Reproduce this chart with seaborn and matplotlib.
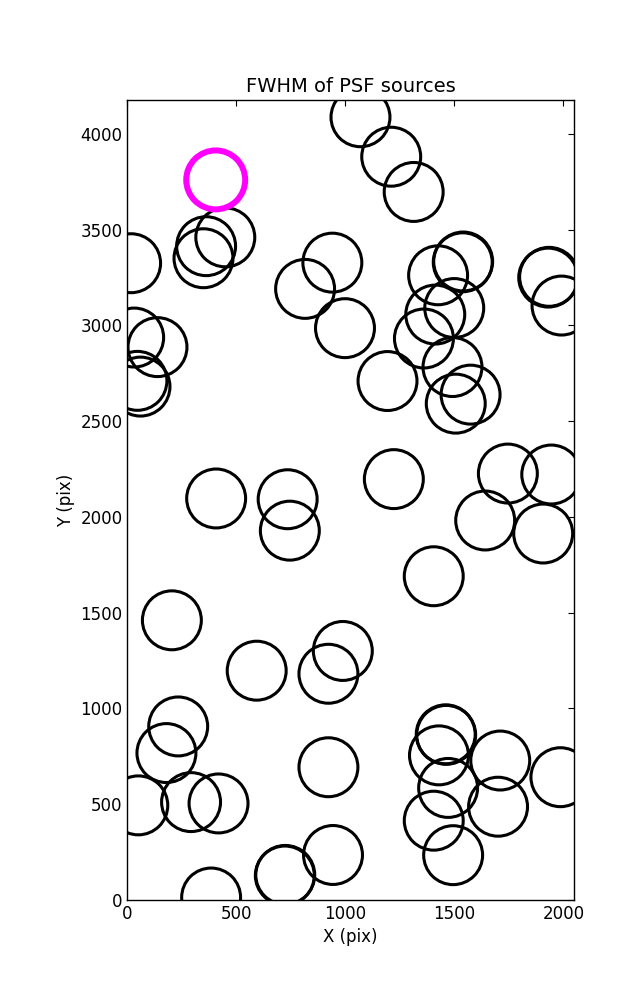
import matplotlib
matplotlib.use("Agg")
import matplotlib.pyplot as plt
import pandas as pd
import seaborn as sns

# source positions (pix)
src_x = [1069, 1210, 1313, 17, 349, 361, 449, 815, 940, 998,
         1425, 1538, 1540, 1499, 1412, 1360, 31, 138, 46, 60,
         1193, 1491, 1506, 1574, 1930, 1934, 1991, 407, 735, 745,
         1222, 1745, 1944, 1641, 1907, 1405, 204, 593, 988, 922,
         233, 179, 1460, 1462, 1429, 1710, 922, 1471, 1700, 1986,
         1405, 1494, 943, 50, 292, 418, 384, 722, 724]
src_y = [4086, 3880, 3696, 3324, 3350, 3413, 3459, 3190, 3327, 2985,
         3261, 3329, 3333, 3090, 3056, 2931, 2936, 2886, 2710, 2680,
         2709, 2782, 2591, 2638, 3249, 3253, 3103, 2096, 2092, 1928,
         2197, 2226, 2221, 1981, 1913, 1690, 1460, 1197, 1300, 1181,
         906, 767, 865, 862, 755, 728, 693, 585, 487, 641,
         414, 234, 235, 494, 511, 504, 13, 128, 131]

# highlighted source
hl_x = [405]
hl_y = [3759]

sns.set_style("white")
plt.rcParams.update({
    "font.family": ["DejaVu Sans"],
    "text.color": "black", "axes.labelcolor": "black",
    "xtick.color": "black", "ytick.color": "black",
    "xtick.direction": "in", "ytick.direction": "in",
    "xtick.top": True, "ytick.right": True,
    "xtick.major.size": 4, "ytick.major.size": 4,
    "xtick.labelsize": 12, "ytick.labelsize": 12,
    "axes.edgecolor": "black", "axes.linewidth": 1.0,
})

df = pd.DataFrame({"x": src_x, "y": src_y})
hl = pd.DataFrame({"x": hl_x, "y": hl_y})

fig = plt.figure(figsize=(6.37, 10), dpi=100)
ax = fig.add_axes([0.2, 0.1, 0.701, 0.8])

sns.scatterplot(data=df, x="x", y="y", ax=ax, s=1800, marker="o",
                facecolor="none", edgecolor="black", linewidth=2.2)
sns.scatterplot(data=hl, x="x", y="y", ax=ax, s=1800, marker="o",
                facecolor="none", edgecolor="magenta", linewidth=4.3)

ax.set_xlim(0, 2048)
ax.set_ylim(0, 4176)
ax.set_xticks([0, 500, 1000, 1500, 2000])
ax.set_yticks([0, 500, 1000, 1500, 2000, 2500, 3000, 3500, 4000])
ax.set_title("FWHM of PSF sources", fontsize=14)
ax.set_xlabel("X (pix)", fontsize=12)
ax.set_ylabel("Y (pix)", fontsize=12)

fig.savefig("out.png", dpi=100)
